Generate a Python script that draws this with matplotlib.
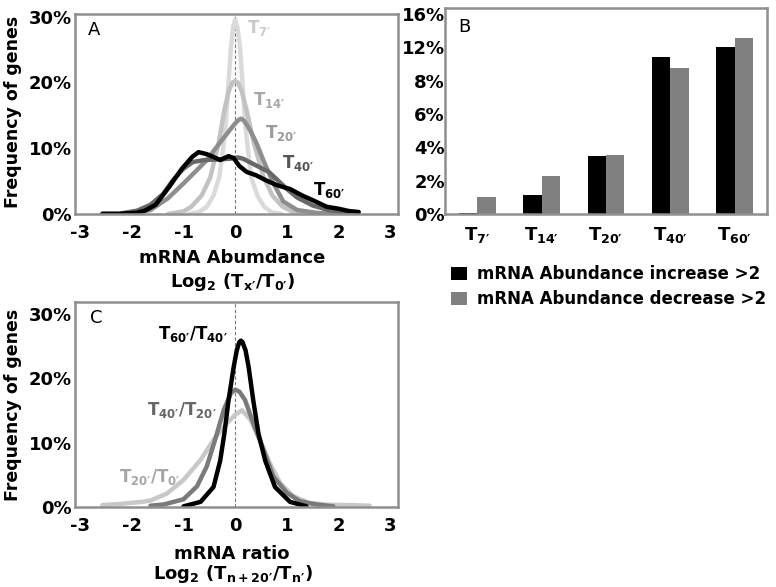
import numpy as np
import matplotlib
matplotlib.use("Agg")
import matplotlib.pyplot as plt

plt.rcParams['font.family'] = ['DejaVu Sans']
plt.rcParams['font.weight'] = 'bold'
plt.rcParams['mathtext.fontset'] = 'custom'
plt.rcParams['mathtext.bf'] = 'DejaVu Sans:bold'
plt.rcParams['mathtext.rm'] = 'DejaVu Sans:bold'
plt.rcParams['mathtext.default'] = 'bf'

# ---- panel A: distributions of log2(Tx/T0) (x, % genes)
t7_x = [-0.9, -0.7, -0.55, -0.42, -0.31, -0.24, -0.18, -0.13, -0.08, -0.04, 0.0,
        0.04, 0.09, 0.14, 0.19, 0.25, 0.31, 0.43, 0.56, 0.7, 0.9]
t7_y = [0.0, 0.3, 1.1, 2.8, 5.6, 9.5, 14.0, 20.0, 25.5, 28.5, 29.5,
        28.5, 25.5, 20.0, 14.0, 9.5, 5.6, 2.8, 1.1, 0.3, 0.0]

t14_x = [-1.3, -1.0, -0.85, -0.65, -0.48, -0.32, -0.21, -0.12, -0.05, 0.0,
         0.05, 0.12, 0.22, 0.36, 0.55, 0.72, 0.92, 1.1, 1.4]
t14_y = [0.0, 0.4, 1.1, 2.8, 5.6, 10.8, 15.8, 18.8, 20.0, 20.2,
         20.0, 18.8, 15.8, 10.8, 5.6, 2.8, 1.1, 0.4, 0.0]

t20_x = [-2.0, -1.64, -1.3, -1.0, -0.75, -0.55, -0.26, -0.03, 0.05, 0.11, 0.18,
         0.29, 0.41, 0.58, 0.74, 0.93, 1.2, 1.6, 2.0]
t20_y = [0.1, 0.6, 2.4, 4.65, 6.6, 8.2, 11.2, 13.5, 14.2, 14.5, 14.1,
         12.7, 10.8, 7.5, 4.65, 1.9, 0.6, 0.15, 0.0]

t40_x = [-2.2, -1.9, -1.64, -1.4, -1.2, -1.0, -0.82, -0.6, -0.3, -0.1, 0.05,
         0.15, 0.3, 0.5, 0.65, 0.8, 1.0, 1.2, 1.5, 1.8, 2.2]
t40_y = [0.1, 0.5, 1.4, 3.0, 5.2, 6.9, 7.9, 8.2, 8.3, 8.4, 8.6,
         8.4, 7.8, 7.0, 6.4, 5.3, 3.8, 2.5, 1.3, 0.6, 0.15]

t60_x = [-2.57, -2.2, -1.9, -1.75, -1.54, -1.28, -1.03, -0.83, -0.71, -0.55,
         -0.4, -0.29, -0.13, -0.03, 0.08, 0.22, 0.4, 0.6, 0.8, 1.06, 1.3,
         1.5, 1.77, 2.0, 2.2, 2.39]
t60_y = [0.05, 0.05, 0.2, 0.5, 1.4, 4.1, 6.9, 8.7, 9.4, 9.1,
         8.6, 8.2, 8.8, 8.5, 7.3, 6.4, 5.9, 5.1, 4.4, 3.8, 2.8,
         2.1, 1.1, 0.8, 0.45, 0.3]

# ---- panel B: % of genes changing more than 2 fold
times = ['$T_{7′}$', '$T_{14′}$', '$T_{20′}$', '$T_{40′}$', '$T_{60′}$']
increase = [0.05, 1.14, 3.48, 9.4, 10.02]
decrease = [1.04, 2.28, 3.54, 8.74, 10.54]
b_ticks = [0, 2, 4, 6, 8, 10, 12]
b_ticklabels = ['0%', '2%', '4%', '6%', '8%', '12%', '16%']

# ---- panel C: distributions of log2(Tn+20/Tn)
r60_x = [-1.0, -0.67, -0.42, -0.29, -0.21, -0.13, -0.03, 0.03, 0.08, 0.11, 0.14,
         0.2, 0.26, 0.35, 0.45, 0.58, 0.77, 1.06, 1.38]
r60_y = [0.1, 0.8, 3.1, 7.2, 11.4, 16.5, 21.7, 24.3, 25.6, 25.8, 25.6,
         24.3, 21.7, 16.5, 11.4, 7.2, 3.1, 0.8, 0.1]

r40_x = [-1.64, -1.38, -1.0, -0.74, -0.55, -0.39, -0.22, -0.08, 0.0, 0.08,
         0.19, 0.35, 0.55, 0.74, 1.0, 1.25, 1.57, 1.9]
r40_y = [0.2, 0.4, 1.2, 3.2, 6.3, 10.4, 15.1, 17.7, 18.2, 17.9,
         16.6, 13.0, 8.8, 4.7, 2.2, 0.9, 0.4, 0.1]

r20_x = [-2.57, -2.2, -1.8, -1.64, -1.32, -1.0, -0.67, -0.42, -0.16, 0.0,
         0.13, 0.29, 0.48, 0.67, 0.87, 1.12, 1.44, 1.8, 2.2, 2.6]
r20_y = [0.3, 0.5, 0.8, 1.0, 2.1, 4.2, 7.3, 10.4, 13.0, 14.3,
         15.0, 13.6, 10.4, 6.8, 3.7, 1.7, 0.6, 0.35, 0.3, 0.2]

frame_col = '#8f8f8f'
fs = 13
lfs = 12

fig = plt.figure(figsize=(7.76, 5.87), dpi=100)
W, H = 776.0, 587.0


def box(l, t, r, b):
    return fig.add_axes([l / W, 1 - b / H, (r - l) / W, (b - t) / H])


def style(ax):
    for s in ax.spines.values():
        s.set_color(frame_col)
        s.set_linewidth(1.8)
    ax.tick_params(length=0, labelsize=fs)


# ================= A =================
axA = box(75, 14, 398, 214)
style(axA)
axA.axvline(0, color='#777777', lw=0.8, ls=(0, (3, 2)), zorder=1)
curvesA = [(t7_x, t7_y, '#dadada'), (t14_x, t14_y, '#c2c2c2'),
           (t20_x, t20_y, '#8e8e8e'), (t40_x, t40_y, '#686868'),
           (t60_x, t60_y, '#000000')]
for x, y, c in curvesA:
    axA.plot(x, y, color=c, lw=3.2, solid_capstyle='round',
             solid_joinstyle='round', zorder=2)
axA.set_xlim(-3.1, 3.15)
axA.set_ylim(0, 30.4)
axA.set_xticks([-3, -2, -1, 0, 1, 2, 3])
axA.set_xticklabels(['-3', '-2', '-1', '0', '1', '2', '3'])
axA.set_yticks([0, 10, 20, 30])
axA.set_yticklabels(['0%', '10%', '20%', '30%'])
axA.tick_params(axis='x', pad=7)
axA.tick_params(axis='y', pad=2)
axA.text(0.04, 0.92, 'A', transform=axA.transAxes, fontsize=fs,
         fontweight='normal', va='center')
labA = [(0.23, 28.3, '$T_{7′}$', '#cacaca'), (0.35, 17.3, '$T_{14′}$', '#a8a8a8'),
        (0.58, 12.3, '$T_{20′}$', '#9a9a9a'), (0.9, 7.7, '$T_{40′}$', '#555555'),
        (1.5, 3.6, '$T_{60′}$', '#000000')]
for x, y, s, c in labA:
    axA.text(x, y, s, color=c, fontsize=lfs, ha='left', va='center')
fig.text(232 / W, 1 - 258 / H, 'mRNA Abumdance', ha='center', va='center', fontsize=fs)
fig.text(233 / W, 1 - 282 / H, '$Log_2\\ (T_{x′}/T_{0′})$', ha='center', va='center', fontsize=fs)
fig.text(13 / W, 1 - 112 / H, 'Frequency of genes', rotation=90, ha='center',
         va='center', fontsize=12.5)

# ================= B =================
axB = box(445, 8, 767, 214)
style(axB)
idx = np.arange(len(times))
bw = 0.285
b1 = axB.bar(idx - bw / 2, increase, bw, color='#000000', zorder=2)
b2 = axB.bar(idx + bw / 2, decrease, bw, color='#808080', zorder=2)
axB.set_xlim(-0.5, 4.5)
axB.set_ylim(0, 12.36)
axB.set_yticks(b_ticks)
axB.set_yticklabels(b_ticklabels)
axB.set_xticks(idx)
axB.set_xticklabels(times)
axB.tick_params(axis='y', pad=0)
axB.tick_params(axis='x', pad=8)
axB.text(0.04, 0.91, 'B', transform=axB.transAxes, fontsize=fs,
         fontweight='normal', va='center')
fig.legend([b1, b2], ['mRNA Abundance increase >2', 'mRNA Abundance decrease >2'],
           loc='upper left', bbox_to_anchor=(451 / W, 1 - 265 / H), frameon=False,
           fontsize=12, handlelength=0.95, handleheight=0.8, handletextpad=0.6,
           labelspacing=0.45, borderpad=0, borderaxespad=0)

# ================= C =================
axC = box(75, 302, 398, 507)
style(axC)
axC.axvline(0, color='#777777', lw=0.8, ls=(0, (3, 2)), zorder=1)
curvesC = [(r20_x, r20_y, '#c8c8c8'), (r40_x, r40_y, '#7a7a7a'),
           (r60_x, r60_y, '#000000')]
for x, y, c in curvesC:
    axC.plot(x, y, color=c, lw=3.2, solid_capstyle='round',
             solid_joinstyle='round', zorder=2)
axC.set_xlim(-3.1, 3.15)
axC.set_ylim(0, 31.8)
axC.set_xticks([-3, -2, -1, 0, 1, 2, 3])
axC.set_xticklabels(['-3', '-2', '-1', '0', '1', '2', '3'])
axC.set_yticks([0, 10, 20, 30])
axC.set_yticklabels(['0%', '10%', '20%', '30%'])
axC.tick_params(axis='x', pad=7)
axC.tick_params(axis='y', pad=2)
axC.text(0.045, 0.92, 'C', transform=axC.transAxes, fontsize=fs,
         fontweight='normal', va='center')
labC = [(-1.5, 26.9, '$T_{60′}/T_{40′}$', '#000000'),
        (-1.7, 15.0, '$T_{40′}/T_{20′}$', '#666666'),
        (-2.25, 4.6, '$T_{20′}/T_{0′}$', '#a6a6a6')]
for x, y, s, c in labC:
    axC.text(x, y, s, color=c, fontsize=lfs, ha='left', va='center')
fig.text(232 / W, 1 - 554 / H, 'mRNA ratio', ha='center', va='center', fontsize=fs)
fig.text(233 / W, 1 - 574 / H, '$Log_2\\ (T_{n+20′}/T_{n′})$', ha='center', va='center', fontsize=fs)
fig.text(13 / W, 1 - 405 / H, 'Frequency of genes', rotation=90, ha='center',
         va='center', fontsize=12.5)

fig.savefig('out.png', dpi=100)
